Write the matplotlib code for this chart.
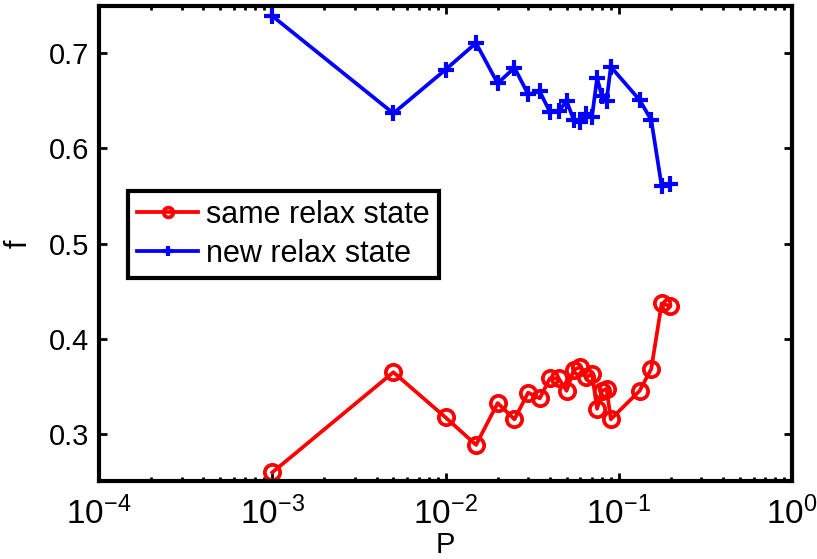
import matplotlib
matplotlib.use("Agg")
import matplotlib.pyplot as plt
from matplotlib.ticker import LogLocator, NullFormatter

plt.rcParams["font.family"] = ["Liberation Sans", "DejaVu Sans"]
plt.rcParams["mathtext.default"] = "regular"

# probability P (x axis)
P = [0.001, 0.005, 0.01, 0.015, 0.02, 0.025, 0.03, 0.035, 0.04, 0.045,
     0.05, 0.055, 0.06, 0.065, 0.07, 0.075, 0.08, 0.085, 0.09,
     0.132, 0.154, 0.177, 0.198]

# fraction ending in the same relaxed state
f_same = [0.259, 0.3645, 0.317, 0.288, 0.332, 0.315, 0.343, 0.337, 0.358, 0.358,
          0.345, 0.367, 0.370, 0.359, 0.363, 0.326, 0.345, 0.347, 0.315,
          0.345, 0.368, 0.437, 0.434]

# fraction ending in a new relaxed state
f_new = [0.7395, 0.637, 0.683, 0.711, 0.6686, 0.685, 0.657, 0.660, 0.6386, 0.639,
         0.650, 0.630, 0.628, 0.636, 0.633, 0.674, 0.655, 0.650, 0.686,
         0.651, 0.630, 0.560, 0.563]

fig = plt.figure(figsize=(8.17, 5.59), dpi=100)
ax = fig.add_axes([0.1212, 0.1395, 0.8482, 0.8498])

ax.plot(P, f_same, color="red", lw=2.7, marker="o", ms=11, mfc="none",
        mew=2.7, label="same relax state")
ax.plot(P, f_new, color="blue", lw=2.7, marker="+", ms=12, mew=3,
        label="new relax state")

ax.set_xscale("log")
ax.set_xlim(1e-4, 1e0)
ax.set_ylim(0.25, 0.75)
ax.set_yticks([0.3, 0.4, 0.5, 0.6, 0.7])
ax.xaxis.set_major_locator(LogLocator(base=10, numticks=10))
ax.xaxis.set_minor_locator(LogLocator(base=10, subs=range(2, 10), numticks=20))
ax.xaxis.set_minor_formatter(NullFormatter())

for s in ax.spines.values():
    s.set_linewidth(3)
ax.tick_params(which="both", direction="in", top=True, right=True, width=2)
ax.tick_params(axis="y", labelsize=21, pad=7)
ax.tick_params(axis="x", labelsize=24, pad=11)
ax.tick_params(which="major", length=6)
ax.tick_params(which="minor", length=3)

ax.set_xlabel("P", fontsize=21, labelpad=0)
ax.set_ylabel("f", fontsize=22, labelpad=11)

leg = ax.legend(loc="lower left", bbox_to_anchor=(0.042, 0.427), fontsize=22,
                frameon=True, fancybox=False, edgecolor="black", framealpha=1,
                handlelength=2.0, borderpad=0.3, labelspacing=0.3,
                handletextpad=0.25, borderaxespad=0)
leg.get_frame().set_linewidth(3)
for h in leg.legend_handles:
    h.set_markersize(7)

fig.savefig("out.png", dpi=100)
